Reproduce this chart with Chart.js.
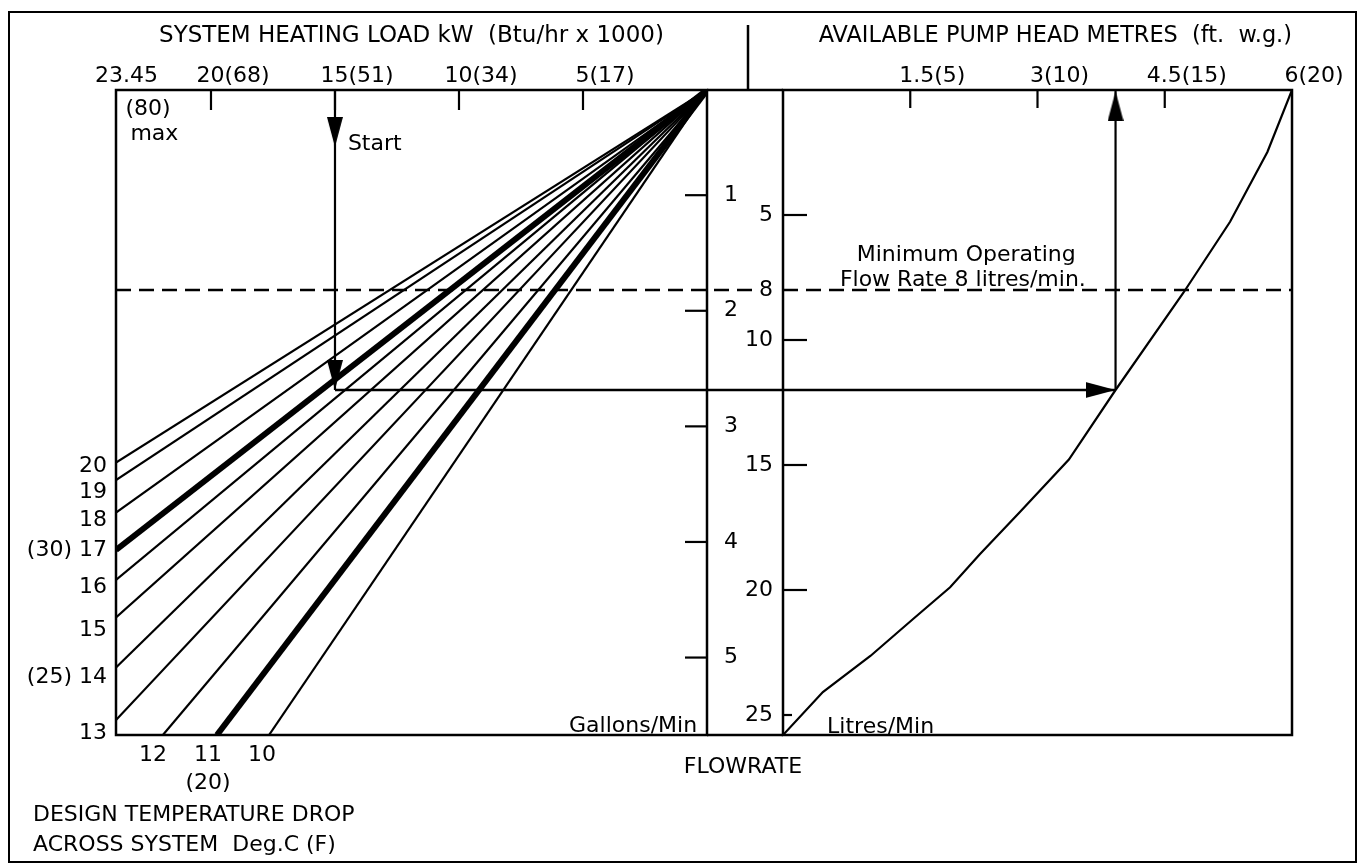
<!DOCTYPE html>
<html>
<head>
<meta charset="utf-8">
<title>Heating load / flowrate / pump head nomogram</title>
<script src="https://cdn.jsdelivr.net/npm/chart.js@4.4.1/dist/chart.umd.min.js"></script>
<style>
  html, body { margin: 0; padding: 0; background: #fff; }
  #wrap { position: relative; width: 1361px; height: 865px; overflow: hidden; }
  #frame { position: absolute; left: 8px; top: 11px; width: 1345px; height: 848px; border: 2px solid #000; }
  canvas { position: absolute; left: 0; top: 0; }
</style>
</head>
<body>
<div id="wrap">
  <div id="frame"></div>
  <canvas id="loadChart" width="1361" height="865"></canvas>
  <canvas id="pumpChart" width="1361" height="865"></canvas>
</div>
<script>
// system heating load (kW) along the top of the left panel
var loadTicks = [23.45, 20, 15, 10, 5];
var loadTickLabels = ['23.45      ', '20(68)', '15(51)', '10(34)', '5(17)'];
var loadMax = 23.83;

// flowrate, litres/min, shared by both panels (0 at the top)
var flowMax = 25.8;
var litreTicks = [5, 8, 10, 15, 20, 25];
var gallonTicks = [1, 2, 3, 4, 5];
var gallonMin = 0.09, gallonMax = 5.67;

// design temperature drop lines, all starting at zero load / zero flow
var tempDrops = [20, 19, 18, 17, 16, 15, 14, 13, 12, 11, 10];
var dropEndLoad = [23.83, 23.83, 23.83, 23.83, 23.83, 23.83, 23.83, 23.83, 21.94, 19.76, 17.66];
var dropEndFlow = [14.9, 15.6, 16.9, 18.4, 19.6, 21.1, 23.1, 25.2, 25.8, 25.8, 25.8];
var boldDrops = [17, 11];

// where the drop numbers are printed
var sideDropFlow = [15.05, 16.1, 17.2, 18.4, 19.9, 21.6, 23.5, 25.75];
var sideDropLabels = ['20', '19', '18', '(30) 17', '16', '15', '(25) 14', '13'];
var baseDropLoad = [22.34, 20.12, 17.94];
var baseDropLabels = ['12', ['11', '(20)'], '10'];

// available pump head (m) and pump curve
var headTicks = [1.5, 3, 4.5, 6];
var headTickLabels = ['1.5(5)', '3(10)', '4.5(15)', '6(20)'];
var pumpHead = [6, 5.71, 5.27, 4.72, 3.92, 3.37, 2.79, 2.32, 1.97, 1.53, 1.03, 0.47, 0];
var pumpFlow = [0, 2.48, 5.27, 8.11, 12.0, 14.78, 16.89, 18.57, 19.89, 21.17, 22.64, 24.08, 25.8];

// minimum operating flow and the worked example
var minFlow = 8;
var exLoad = 15, exFlow = 12, exHead = 3.92;

Chart.defaults.font.family = '"DejaVu Sans", sans-serif';
Chart.defaults.font.size = 22;
Chart.defaults.color = '#000';

var INK = '#000';

// arrow head image, tip in the centre of the image
var arrowHead = (function () {
  var w = 16, len = 30;
  var c = document.createElement('canvas');
  c.width = w; c.height = len * 2;
  var g = c.getContext('2d');
  g.fillStyle = INK;
  g.beginPath();
  g.moveTo(w / 2, len); g.lineTo(w, len * 2); g.lineTo(0, len * 2);
  g.closePath(); g.fill();
  return c;
})();

function pts(xs, ys) {
  return xs.map(function (x, i) { return {x: x, y: ys[i]}; });
}
function fixTicks(values) {
  return function (s) { s.ticks = values.map(function (v) { return {value: v}; }); };
}
var noGrid = {display: false, drawTicks: false};
var noBorder = {display: false};

// frame, inner tick marks and notes
var nomogram = {
  id: 'nomogram',
  afterDraw: function (chart, args, opts) {
    var ctx = chart.ctx, a = chart.chartArea;
    ctx.save();
    ctx.strokeStyle = INK;
    ctx.lineWidth = 2.5;
    ctx.strokeRect(a.left, a.top, a.right - a.left, a.bottom - a.top);
    (opts.rules || []).forEach(function (r) {
      ctx.beginPath(); ctx.moveTo(r[0], r[1]); ctx.lineTo(r[2], r[3]); ctx.stroke();
    });
    ctx.lineWidth = 2.2;
    (opts.marks || []).forEach(function (m) {
      var s = chart.scales[m.axis];
      s.ticks.forEach(function (t) {
        if (m.skip.indexOf(t.value) >= 0) return;
        var p = s.getPixelForValue(t.value);
        var len = (m.lens && m.lens[t.value]) || m.len;
        ctx.beginPath();
        if (s.isHorizontal()) { ctx.moveTo(p, a.top); ctx.lineTo(p, a.top + len); }
        else if (s.position === 'right') { ctx.moveTo(a.right, p); ctx.lineTo(a.right - len, p); }
        else { ctx.moveTo(a.left, p); ctx.lineTo(a.left + len, p); }
        ctx.stroke();
      });
    });
    ctx.fillStyle = INK;
    ctx.font = '22px "DejaVu Sans"';
    ctx.textBaseline = 'alphabetic';
    (opts.notes || []).forEach(function (n) {
      var x = n.px ? n.x : chart.scales.x.getPixelForValue(n.x);
      var y = n.px ? n.y : chart.scales.y.getPixelForValue(n.y);
      ctx.textAlign = n.align || 'left';
      ctx.fillText(n.text, x, y);
    });
    ctx.restore();
  }
};

function line(data, width, extra) {
  var d = {data: data, showLine: true, borderColor: INK, borderWidth: width,
           pointRadius: 0, tension: 0};
  for (var k in extra) d[k] = extra[k];
  return d;
}
function heads(data, rot) {
  return {data: data, showLine: false, pointStyle: arrowHead, pointRotation: rot,
          pointRadius: 5, clip: false};
}

// ---------------- left panel: heating load vs flowrate ----------------
var loadSets = tempDrops.map(function (d, i) {
  return line([{x: 0, y: 0}, {x: dropEndLoad[i], y: dropEndFlow[i]}],
              boldDrops.indexOf(d) >= 0 ? 6 : 2.2);
});
loadSets.push(line([{x: loadMax, y: minFlow}, {x: -2.02, y: minFlow}], 2.5,
                   {borderDash: [15, 8], clip: false}));
loadSets.push(line([{x: exLoad, y: 0}, {x: exLoad, y: exFlow}], 2.2));
loadSets.push(line([{x: exLoad, y: exFlow}, {x: -3.06, y: exFlow}], 2.5, {clip: false}));
loadSets.push(heads([{x: exLoad, y: 2.28}, {x: exLoad, y: exFlow}], 180));

new Chart(document.getElementById('loadChart'), {
  type: 'scatter',
  data: {datasets: loadSets},
  plugins: [nomogram],
  options: {
    responsive: false, animation: false, events: [], devicePixelRatio: 1,
    layout: {padding: {left: 0, top: 0, right: 601, bottom: 0}},
    plugins: {
      legend: {display: false},
      tooltip: {enabled: false},
      nomogram: {
        rules: [[707, 90, 783, 90], [707, 735, 783, 735], [748, 25, 748, 90]],
        marks: [{axis: 'x', len: 20, skip: [23.45]}, {axis: 'yGal', len: 22, skip: []}],
        notes: [
          {text: '(80)', x: 23.45, y: 1.0},
          {text: 'max', x: 23.25, y: 2.0},
          {text: 'Start', x: 14.48, y: 2.4},
          {text: 'Gallons/Min', x: 0.4, y: 25.68, align: 'right'},
          {text: 'FLOWRATE', x: 743, y: 773, px: true, align: 'center'},
          {text: 'DESIGN TEMPERATURE DROP', x: 33, y: 821, px: true},
          {text: 'ACROSS SYSTEM  Deg.C (F)', x: 33, y: 851, px: true}
        ]
      }
    },
    scales: {
      x: {
        type: 'linear', position: 'top', reverse: true, min: 0, max: loadMax,
        afterBuildTicks: fixTicks(loadTicks),
        afterFit: function (s) { s.height = 90; },
        grid: noGrid, border: noBorder,
        ticks: {padding: 1, labelOffset: 22, autoSkip: false, maxRotation: 0,
                callback: function (v, i) { return loadTickLabels[i]; }},
        title: {display: true, text: 'SYSTEM HEATING LOAD kW  (Btu/hr x 1000)',
                font: {size: 23}, padding: {top: 22, bottom: 0}}
      },
      xb: {
        type: 'linear', position: 'bottom', reverse: true, min: 0, max: loadMax,
        afterBuildTicks: fixTicks(baseDropLoad),
        afterFit: function (s) { s.height = 130; },
        grid: noGrid, border: noBorder,
        ticks: {padding: 6, autoSkip: false, maxRotation: 0, font: {lineHeight: 1.27},
                callback: function (v, i) { return baseDropLabels[i]; }}
      },
      y: {
        type: 'linear', position: 'left', reverse: true, min: 0, max: flowMax,
        afterBuildTicks: fixTicks(sideDropFlow),
        afterFit: function (s) { s.width = 116; },
        grid: noGrid, border: noBorder,
        ticks: {padding: 9, autoSkip: false,
                callback: function (v, i) { return sideDropLabels[i]; }}
      },
      yGal: {
        type: 'linear', position: 'right', reverse: true, min: gallonMin, max: gallonMax,
        afterBuildTicks: fixTicks(gallonTicks),
        afterFit: function (s) { s.width = 53; },
        grid: noGrid, border: noBorder,
        ticks: {padding: 17, autoSkip: false}
      }
    }
  }
});

// ---------------- right panel: pump head vs flowrate ----------------
var pumpSets = [
  line(pts(pumpHead, pumpFlow), 2.2),
  line([{x: 0, y: minFlow}, {x: 6, y: minFlow}], 2.5, {borderDash: [15, 8]}),
  line([{x: 0, y: exFlow}, {x: exHead, y: exFlow}], 2.5),
  line([{x: exHead, y: exFlow}, {x: exHead, y: 0}], 2.2),
  heads([{x: exHead, y: exFlow}], 90),
  heads([{x: exHead, y: 0.05}], 0)
];

new Chart(document.getElementById('pumpChart'), {
  type: 'scatter',
  data: {datasets: pumpSets},
  plugins: [nomogram],
  options: {
    responsive: false, animation: false, events: [], devicePixelRatio: 1,
    layout: {padding: {left: 745, top: 0, right: 69, bottom: 130}},
    plugins: {
      legend: {display: false},
      tooltip: {enabled: false},
      nomogram: {
        marks: [{axis: 'x', len: 18, skip: [6]}, {axis: 'y', len: 24, skip: [8], lens: {25: 9}}],
        notes: [
          {text: 'Litres/Min', x: 0.52, y: 25.72},
          {text: 'Minimum Operating', x: 2.16, y: 6.83, align: 'center'},
          {text: 'Flow Rate 8 litres/min.', x: 2.12, y: 7.83, align: 'center'}
        ]
      }
    },
    scales: {
      x: {
        type: 'linear', position: 'top', min: 0, max: 6,
        afterBuildTicks: fixTicks(headTicks),
        afterFit: function (s) { s.height = 90; },
        grid: noGrid, border: noBorder,
        ticks: {padding: 1, labelOffset: 22, autoSkip: false, maxRotation: 0,
                callback: function (v, i) { return headTickLabels[i]; }},
        title: {display: true, text: '     AVAILABLE PUMP HEAD METRES  (ft.  w.g.)',
                font: {size: 23}, padding: {top: 22, bottom: 0}}
      },
      y: {
        type: 'linear', position: 'left', reverse: true, min: 0, max: flowMax,
        afterBuildTicks: fixTicks(litreTicks),
        afterFit: function (s) { s.width = 38; },
        grid: noGrid, border: noBorder,
        ticks: {padding: 10, autoSkip: false}
      }
    }
  }
});
</script>
</body>
</html>
